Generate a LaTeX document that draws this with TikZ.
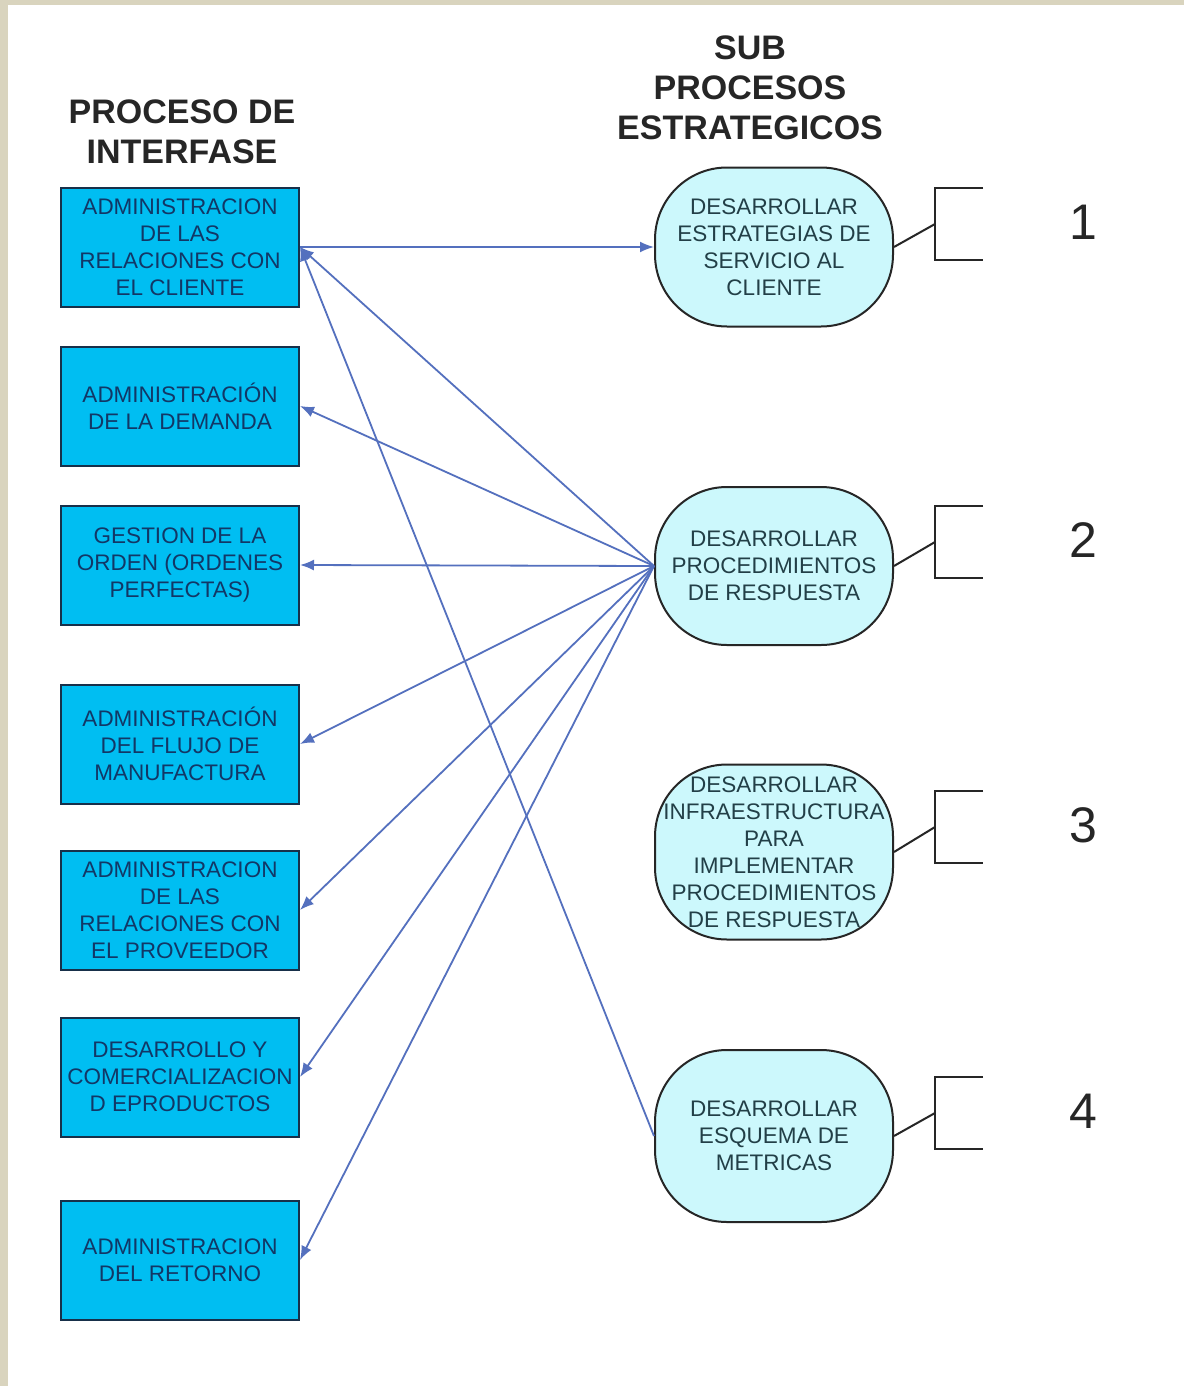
\documentclass[tikz,border=0pt]{standalone}
\usepackage{fontspec}
\setmainfont{Liberation Sans}
\usetikzlibrary{arrows.meta}
\definecolor{frame}{HTML}{D9D4BE}
\definecolor{boxfill}{HTML}{00BEF2}
\definecolor{boxedge}{HTML}{17304A}
\definecolor{boxtext}{HTML}{123766}
\definecolor{ovalfill}{HTML}{CCF8FC}
\definecolor{ovaltext}{HTML}{223F47}
\definecolor{link}{HTML}{5470BE}
\tikzset{
  heading/.style={font=\fontsize{34}{40}\selectfont\bfseries, text=black!85, align=center, inner sep=0},
  procbox/.style={draw=boxedge, line width=2pt, fill=boxfill, minimum width=238pt, minimum height=119pt,
    inner sep=0, align=center, text=boxtext, font=\fontsize{22.5}{27}\selectfont},
  oval/.style={draw=black!85, line width=2pt, fill=ovalfill, minimum width=238pt, rounded corners=72pt,
    inner sep=0, align=center, text=ovaltext, font=\fontsize{22.5}{27}\selectfont},
  num/.style={font=\fontsize{50}{50}\selectfont, text=black!85, inner sep=0},
  link/.style={draw=link, line width=1.8pt, -{Latex[length=14pt,width=11pt]}},
  bracket/.style={draw=black!85, line width=2pt}
}
\begin{document}
\begin{tikzpicture}[x=1pt, y=-1pt]
\useasboundingbox (0,0) rectangle (1184,1386);
% page background with frame strips
\fill[white] (0,0) rectangle (1184,1386);
\fill[frame] (0,0) rectangle (8,1386);
\fill[frame] (0,0) rectangle (1184,5);

% headings
\node[heading] (h1) at (182,132) {PROCESO DE\\INTERFASE};
\node[heading] (h2) at (750,88) {SUB\\PROCESOS\\ESTRATEGICOS};

% interface processes
\node[procbox] (b1) at (180,247) {ADMINISTRACION\\DE LAS\\RELACIONES CON\\EL CLIENTE};
\node[procbox] (b2) at (180,406) {ADMINISTRACIÓN\\DE LA DEMANDA};
\node[procbox] (b3) at (180,565) {GESTION DE LA\\ORDEN (ORDENES\\PERFECTAS)};
\node[procbox] (b4) at (180,744) {ADMINISTRACIÓN\\DEL FLUJO DE\\MANUFACTURA};
\node[procbox] (b5) at (180,910) {ADMINISTRACION\\DE LAS\\RELACIONES CON\\EL PROVEEDOR};
\node[procbox] (b6) at (180,1077) {DESARROLLO Y\\COMERCIALIZACION\\D EPRODUCTOS};
\node[procbox] (b7) at (180,1260) {ADMINISTRACION\\DEL RETORNO};

% strategic sub-processes
\node[oval, minimum height=159pt] (s1) at (774,247) {DESARROLLAR\\ESTRATEGIAS DE\\SERVICIO AL\\CLIENTE};
\node[oval, minimum height=158pt] (s2) at (774,566) {DESARROLLAR\\PROCEDIMIENTOS\\DE RESPUESTA};
\node[oval, minimum height=175pt] (s3) at (774,852) {DESARROLLAR\\INFRAESTRUCTURA\\PARA\\IMPLEMENTAR\\PROCEDIMIENTOS\\DE RESPUESTA};
\node[oval, minimum height=172pt] (s4) at (774,1136) {DESARROLLAR\\ESQUEMA DE\\METRICAS};

% connectors
\draw[link] (b1.east) -- (s1.west);
\foreach \b in {b1,b2,b3,b4,b5,b6,b7}
  \draw[link] (s2.west) -- (\b.east);
\draw[link] (s4.west) -- (b1.east);

% brackets and numbers
\foreach \s/\y/\n in {s1/224/1, s2/542/2, s3/827/3, s4/1113/4}{
  \coordinate (j\n) at (935,\y);
  \draw[bracket] (\s.east) -- (j\n);
  \draw[bracket] (983,\y-36) -- (935,\y-36) -- (935,\y+36) -- (983,\y+36);
  \node[num] (n\n) at (1083,\y-2) {\n};
}
\end{tikzpicture}
\end{document}
